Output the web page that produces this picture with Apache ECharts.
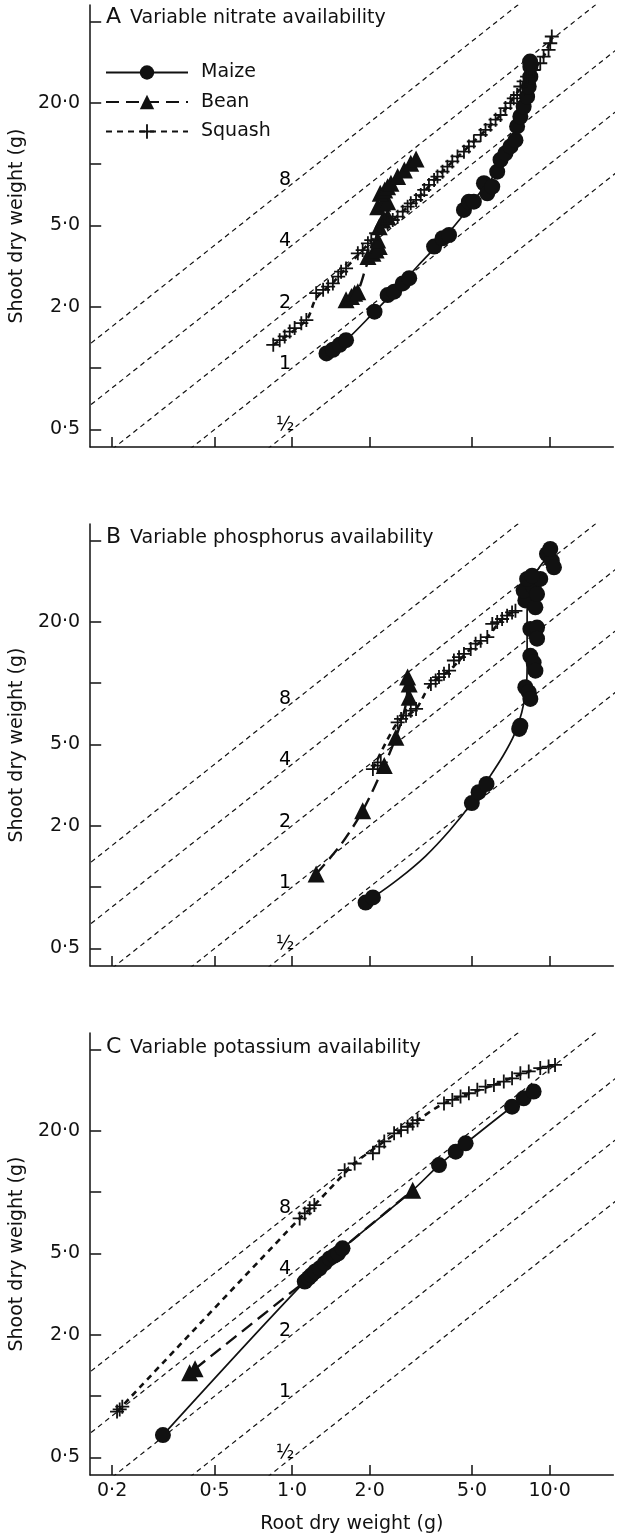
<!DOCTYPE html>
<html><head><meta charset="utf-8">
<script src="https://cdn.jsdelivr.net/npm/echarts@6/dist/echarts.min.js"></script>
<style>html,body{margin:0;padding:0;background:#fff}#c{width:625px;height:1539px}</style>
</head><body><div id="c"></div>
<script>
// ---------- data ----------
const ratios = [0.5, 1, 2, 4, 8];
const ratioLabels = ['½', '1', '2', '4', '8'];
const xTickValues = [0.2, 0.5, 1, 2, 5, 10];
const xTickLabels = ['0·2', '0·5', '1·0', '2·0', '5·0', '10·0'];
const yTickValues = [0.5, 1, 2, 5, 10, 20, 50];
const yLabelValues = [0.5, 2, 5, 20];
const yLabelTexts = ['0·5', '2·0', '5·0', '20·0'];
const panelLetters = ['A', 'B', 'C'];
const panelTitles = ['Variable nitrate availability', 'Variable phosphorus availability', 'Variable potassium availability'];
const seriesNames = ['Maize', 'Bean', 'Squash'];

// Panel A (nitrate)
const maizeA = [[1.36,1.18],[1.44,1.23],[1.53,1.30],[1.62,1.37],[2.09,1.89],[2.35,2.28],[2.49,2.37],[2.69,2.60],[2.85,2.76],[3.56,3.94],[3.84,4.33],[4.07,4.49],[4.65,5.96],[4.86,6.54],[5.08,6.54],[5.56,8.05],[5.73,7.19],[5.99,7.75],[6.26,9.18],[6.45,10.5],[6.74,11.3],[7.05,12.2],[7.37,13.1],[7.48,15.3],[7.70,17.1],[7.93,19.1],[8.18,21.4],[8.30,24.0],[8.42,26.8],[8.42,30.0],[8.40,31.8]];
const maizeFitA = [[1.36,1.18],[1.62,1.37],[2.09,1.89],[2.6,2.5],[3.1,3.2],[3.8,4.2],[4.5,5.4],[5.2,6.9],[6.0,8.6],[6.8,11.2],[7.5,14.6],[8.0,19.5],[8.3,24.5],[8.42,31]];
const beanA = [[1.62,2.16],[1.70,2.24],[1.75,2.33],[1.80,2.37],[1.97,3.52],[2.06,3.65],[2.12,3.79],[2.18,3.94],[2.15,4.24],[2.18,4.93],[2.25,5.32],[2.35,5.52],[2.15,6.18],[2.25,6.42],[2.35,6.54],[2.20,7.19],[2.29,7.47],[2.35,7.75],[2.42,8.05],[2.57,8.68],[2.73,9.36],[2.89,10.1],[3.03,10.6]];
const beanFitA = [[1.62,2.16],[1.80,2.40],[1.95,3.2],[2.12,4.0],[2.22,5.0],[2.28,6.3],[2.35,7.6],[2.6,8.8],[3.03,10.6]];
const squashA = [[0.845,1.30],[0.895,1.37],[0.936,1.43],[0.979,1.51],[1.023,1.57],[1.086,1.66],[1.136,1.72],[1.24,2.33],[1.32,2.42],[1.38,2.51],[1.44,2.60],[1.51,2.81],[1.55,2.97],[1.62,3.08],[1.80,3.65],[1.88,3.79],[1.97,4.09],[2.03,4.24],[2.12,4.58],[2.25,4.93],[2.35,5.12],[2.46,5.32],[2.57,5.52],[2.69,5.84],[2.81,6.18],[2.89,6.42],[3.03,6.67],[3.16,7.05],[3.26,7.47],[3.40,7.90],[3.56,8.36],[3.67,8.68],[3.84,9.18],[4.01,9.71],[4.19,10.3],[4.39,10.9],[4.65,11.5],[4.86,12.2],[5.08,12.9],[5.40,13.9],[5.64,14.7],[5.90,15.6],[6.17,16.5],[6.45,17.4],[6.74,18.8],[7.05,19.9],[7.26,21.0],[7.48,21.8],[7.70,24.0],[7.93,25.4],[8.18,26.8],[8.67,28.9],[9.20,31.2],[9.48,33.6],[9.91,36.3],[10.06,39.1],[10.2,42.2]];
const squashFitA = [[0.845,1.30],[1.136,1.72],[1.24,2.2],[1.44,2.62],[1.62,3.1],[2.03,4.2],[2.46,5.3],[3.16,7.05],[3.84,9.2],[5.08,12.9],[6.45,17.4],[7.7,23.5],[8.67,28.9],[9.48,33.6],[10.2,42]];

// Panel B (phosphorus)
const maizeB = [[1.93,0.84],[2.06,0.89],[4.99,2.58],[5.30,2.92],[5.69,3.20],[7.62,5.96],[7.70,6.18],[8.05,9.54],[8.30,9.02],[8.42,8.36],[8.42,13.6],[8.67,12.6],[8.81,11.5],[8.42,18.4],[8.94,18.7],[8.94,16.5],[8.05,25.4],[8.81,23.5],[7.93,28.4],[8.67,29.5],[8.94,27.3],[9.20,32.4],[8.18,32.4],[8.55,33.6],[9.77,42.9],[10.2,39.8],[10.4,36.9],[10.06,45.4]];
const maizeFitB = [[1.95,0.86],[2.06,0.89],[2.6,1.10],[3.3,1.42],[4.1,1.9],[4.99,2.58],[5.7,3.3],[6.6,4.4],[7.3,5.6],[7.8,7.2],[8.1,9.3],[8.18,12],[8.18,22],[8.3,30],[9.0,36],[9.9,42]];
const beanB = [[1.24,1.16],[1.88,2.37],[2.28,3.94],[2.53,5.42],[2.85,8.52],[2.85,9.90],[2.81,10.7]];
const beanFitB = [[1.24,1.16],[1.55,1.62],[1.88,2.37],[2.28,3.94],[2.53,5.42],[2.75,7.6],[2.83,10.5]];
const squashB = [[2.06,3.79],[2.15,3.94],[2.21,4.09],[2.57,6.42],[2.65,6.67],[2.77,6.92],[2.89,7.32],[3.03,7.47],[3.46,9.90],[3.61,10.3],[3.72,10.7],[3.89,11.1],[4.07,11.5],[4.25,12.9],[4.45,13.4],[4.65,13.9],[4.94,14.7],[5.16,15.6],[5.40,16.1],[5.73,16.8],[5.99,19.5],[6.26,19.9],[6.54,20.6],[6.84,21.4],[7.15,22.2],[7.37,22.6]];
const squashFitB = [[2.06,3.79],[2.57,6.42],[3.03,7.47],[3.46,9.9],[4.07,11.5],[4.94,14.7],[5.73,16.8],[6.54,20.6],[7.37,22.6]];

// Panel C (potassium)
const maizeC = [[0.315,0.644],[1.12,3.64],[1.16,3.80],[1.19,3.92],[1.23,4.08],[1.28,4.23],[1.34,4.48],[1.40,4.73],[1.46,4.88],[1.51,5.01],[1.57,5.30],[3.72,13.56],[4.32,15.78],[4.72,17.33],[7.15,26.2],[7.93,28.8],[8.67,31.1]];
const maizeFitC = [[0.315,0.644],[1.12,3.64],[1.57,5.30],[2.94,10.2],[3.72,13.56],[4.72,17.33],[7.15,26.2],[8.67,31.1]];
const beanC = [[0.40,1.30],[0.42,1.36],[2.94,10.2]];
const beanFitC = [[0.42,1.36],[1.0,3.25],[1.12,3.64],[1.57,5.30],[2.94,10.2]];
const squashC = [[0.209,0.84],[0.214,0.86],[0.219,0.887],[1.07,7.43],[1.12,7.86],[1.17,8.32],[1.22,8.63],[1.60,12.8],[1.75,13.8],[2.06,15.5],[2.18,16.7],[2.28,17.7],[2.49,19.4],[2.65,20.1],[2.81,20.9],[2.94,21.7],[3.07,22.5],[3.89,27.2],[4.19,28.3],[4.51,29.4],[4.86,30.5],[5.24,31.7],[5.64,32.9],[6.08,33.5],[6.64,34.8],[7.15,36.1],[7.70,38.2],[8.30,39.0],[9.20,40.5],[9.91,41.2],[10.5,42.0]];
const squashFitC = [[0.209,0.84],[1.07,7.43],[1.22,8.63],[1.75,13.8],[2.28,17.7],[3.07,22.5],[3.89,27.2],[6.08,33.5],[8.30,39.0],[10.5,42.0]];

const points = [[maizeA, beanA, squashA], [maizeB, beanB, squashB], [maizeC, beanC, squashC]];
const fits = [[maizeFitA, beanFitA, squashFitA], [maizeFitB, beanFitB, squashFitB], [maizeFitC, beanFitC, squashFitC]];

// ---------- styles ----------
const FONT = 'DejaVu Sans';
const INK = '#111';
const plusPath = 'path://M6.1,0H7.9V6.1H14V7.9H7.9V14H6.1V7.9H0V6.1H6.1Z';
const symbols = ['circle', 'triangle', plusPath];
const symbolSizes = [16, 17, 14];
const lineStyles = [
  { color: INK, width: 1.7, type: 'solid' },
  { color: INK, width: 2.4, type: [13, 7] },
  { color: INK, width: 2.6, type: [6, 5] }
];
const gridTops = [5, 524, 1033];
const titleYs = [17, 537, 1047];
const X_MIN = 0.1644, X_MAX = 17.68, Y_MIN = 0.4104, Y_MAX = 60.2;

const grids = [], xAxes = [], yAxes = [], series = [], graphics = [];

function fmtFrom(vals, texts) {
  return function (v) {
    for (let i = 0; i < vals.length; i++) if (Math.abs(vals[i] - v) < 1e-6 * vals[i]) return texts[i];
    return '';
  };
}

for (let p = 0; p < 3; p++) {
  grids.push({ left: 88, width: 525.3, top: gridTops[p], height: 442, containLabel: false });
  xAxes.push({
    type: 'log', logBase: 10, gridIndex: p, min: X_MIN, max: X_MAX,
    axisLine: { show: true, lineStyle: { color: INK, width: 1.5 } },
    axisTick: { show: true, inside: true, length: 10, customValues: xTickValues, lineStyle: { color: INK, width: 1.5 } },
    axisLabel: { show: p === 2, customValues: xTickValues, formatter: fmtFrom(xTickValues, xTickLabels), margin: 7, fontSize: 19, fontFamily: FONT, color: INK },
    splitLine: { show: false }, minorTick: { show: false },
    name: p === 2 ? 'Root dry weight (g)' : '', nameLocation: 'middle', nameGap: 40,
    nameTextStyle: { fontSize: 19, fontFamily: FONT, color: INK }
  });
  yAxes.push({
    type: 'log', logBase: 10, gridIndex: p, min: Y_MIN, max: Y_MAX,
    axisLine: { show: true, lineStyle: { color: INK, width: 1.5 } },
    axisTick: { show: true, inside: true, length: 11, customValues: yTickValues, lineStyle: { color: INK, width: 1.5 } },
    axisLabel: { show: true, customValues: yLabelValues, formatter: fmtFrom(yLabelValues, yLabelTexts), margin: 10, fontSize: 19, fontFamily: FONT, color: INK },
    splitLine: { show: false }, minorTick: { show: false },
    name: 'Shoot dry weight (g)', nameLocation: 'middle', nameGap: 62, nameRotate: 90,
    nameTextStyle: { fontSize: 19, fontFamily: FONT, color: INK }
  });

  // constant shoot:root ratio lines
  ratios.forEach(function (r) {
    series.push({
      type: 'line', xAxisIndex: p, yAxisIndex: p, silent: true, z: 1, clip: true,
      data: [[0.1, 0.1 * r], [30, 30 * r]], symbol: 'none',
      lineStyle: { color: INK, width: 1.2, type: [5, 4] }
    });
  });
  series.push({
    type: 'scatter', xAxisIndex: p, yAxisIndex: p, silent: true, z: 2, symbolSize: 0,
    itemStyle: { opacity: 1 },
    data: ratios.map(function (r, i) { return { value: [1, r], label: { formatter: ratioLabels[i] } }; }),
    label: { show: true, position: 'inside', offset: [-7, -4], fontSize: 19, fontFamily: FONT, color: '#000' }
  });

  // fitted lines then points
  for (let s = 0; s < 3; s++) {
    series.push({
      type: 'line', name: seriesNames[s], xAxisIndex: p, yAxisIndex: p, z: 3,
      data: fits[p][s], symbol: symbols[s], symbolSize: symbolSizes[s], showSymbol: false,
      smooth: 0.3, lineStyle: lineStyles[s], itemStyle: { color: INK }
    });
  }
  for (let s = 0; s < 3; s++) {
    series.push({
      type: 'scatter', name: seriesNames[s], xAxisIndex: p, yAxisIndex: p, z: 4,
      data: points[p][s], symbol: symbols[s], symbolSize: symbolSizes[s],
      itemStyle: { color: INK, opacity: 1 }
    });
  }

  graphics.push({ type: 'text', x: 106, y: titleYs[p], style: { text: panelLetters[p], fontSize: 22, fontFamily: FONT, fill: INK, verticalAlign: 'middle' } });
  graphics.push({ type: 'text', x: 130, y: titleYs[p] + 1, style: { text: panelTitles[p], fontSize: 19, fontFamily: FONT, fill: INK, verticalAlign: 'middle' } });
}

const chart = echarts.init(document.getElementById('c'), null, { renderer: 'canvas' });
chart.setOption({
  animation: false,
  backgroundColor: '#fff',
  grid: grids, xAxis: xAxes, yAxis: yAxes, series: series, graphic: graphics,
  legend: {
    data: seriesNames, orient: 'vertical', left: 105, top: 63, itemWidth: 82, itemHeight: 18, itemGap: 10.5,
    selectedMode: false, padding: 0,
    textStyle: { fontSize: 19, fontFamily: FONT, color: INK, padding: [0, 0, 0, 8] }
  }
});
</script></body></html>
